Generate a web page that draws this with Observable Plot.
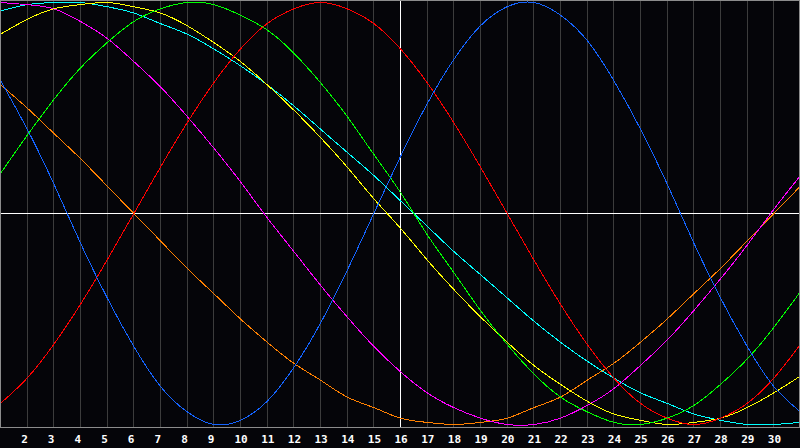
<!DOCTYPE html>
<html>
<head>
<meta charset="utf-8">
<script src="https://cdn.jsdelivr.net/npm/d3@7"></script>
<script src="https://cdn.jsdelivr.net/npm/@observablehq/plot@0.6"></script>
<style>
html, body { margin: 0; padding: 0; background: #050509; overflow: hidden; }
</style>
</head>
<body>
<div id="chart"></div>
<script>
const days = [1,2,3,4,5,6,7,8,9,10,11,12,13,14,15,16,17,18,19,20,21,22,23,24,25,26,27,28,29,30,31];
const tickDays = [2,3,4,5,6,7,8,9,10,11,12,13,14,15,16,17,18,19,20,21,22,23,24,25,26,27,28,29,30];
const gridDays = [2,3,4,5,6,7,8,9,10,11,12,13,14,15,17,18,19,20,21,22,23,24,25,26,27,28,29,30];
const todayDay = [16];

const physical     = [63,40,14,-14,-40,-63,-82,-94,-100,-98,-89,-73,-52,-27,0,27,52,73,89,98,100,94,82,63,40,14,-14,-40,-63,-82,-94];
const emotional    = [-90,-78,-62,-43,-22,0,22,43,62,78,90,97,100,97,90,78,62,43,22,0,-22,-43,-62,-78,-90,-97,-100,-97,-90,-78,-62];
const intellectual = [19,37,54,69,81,91,97,100,99,94,87,76,62,46,28,10,-10,-28,-46,-62,-76,-87,-94,-99,-100,-97,-91,-81,-69,-54,-37];
const intuitive    = [100,99,97,91,83,72,60,46,31,15,-2,-18,-34,-49,-63,-75,-85,-92,-97,-100,-100,-97,-91,-83,-72,-60,-46,-31,-15,2,18];
const aesthetic    = [85,92,97,99,100,98,95,89,81,72,61,49,36,22,7,-7,-22,-36,-49,-61,-72,-81,-89,-95,-98,-100,-99,-97,-92,-85,-77];
const awareness    = [61,50,38,26,13,0,-13,-26,-38,-50,-61,-71,-79,-87,-92,-97,-99,-100,-99,-97,-92,-87,-79,-71,-61,-50,-38,-26,-13,0,13];
const spiritual    = [96,99,100,100,98,95,90,85,78,70,61,51,40,29,18,6,-6,-18,-29,-40,-51,-61,-70,-78,-85,-90,-95,-98,-100,-100,-99];

const seriesNames  = ["Spiritual","Awareness","Intuitive","Aesthetic","Intellectual","Emotional","Physical"];
const seriesValues = [spiritual, awareness, intuitive, aesthetic, intellectual, emotional, physical];
const seriesColors = ["#00ffff","#ff8000","#ff00ff","#ffff00","#00ff00","#ff0000","#1464ff"];

const rows = seriesNames.flatMap((name, k) =>
  days.map((d, i) => ({day: d, value: seriesValues[k][i], series: name}))
);

const chart = Plot.plot({
  width: 800,
  height: 448,
  marginTop: 0,
  marginLeft: 0,
  marginRight: 1,
  marginBottom: 21,
  style: {background: "#050509", color: "#ffffff", fontFamily: "DejaVu Sans Mono", fontSize: "11px", fontWeight: "bold"},
  x: {domain: [1, 31], range: [0, 800], axis: null, label: null},
  y: {domain: [-100, 100], range: [424, 2], axis: null, label: null},
  color: {domain: seriesNames, range: seriesColors},
  marks: [
    Plot.ruleX(gridDays, {stroke: "#3c3c3c", shapeRendering: "crispEdges"}),
    Plot.ruleY([0], {stroke: "#ffffff", shapeRendering: "crispEdges"}),
    Plot.ruleX(todayDay, {stroke: "#ffffff", shapeRendering: "crispEdges"}),
    Plot.line(rows, {x: "day", y: "value", z: "series", stroke: "series", curve: "natural", strokeWidth: 1, shapeRendering: "crispEdges"}),
    Plot.frame({stroke: "#8c8c8c", shapeRendering: "crispEdges"}),
    Plot.axisX(tickDays, {tickSize: 0, tickPadding: 8, textAnchor: "start", dx: -6, fill: "#ffffff", fontWeight: "bold", label: null})
  ]
});
document.getElementById("chart").appendChild(chart);
</script>
</body>
</html>
